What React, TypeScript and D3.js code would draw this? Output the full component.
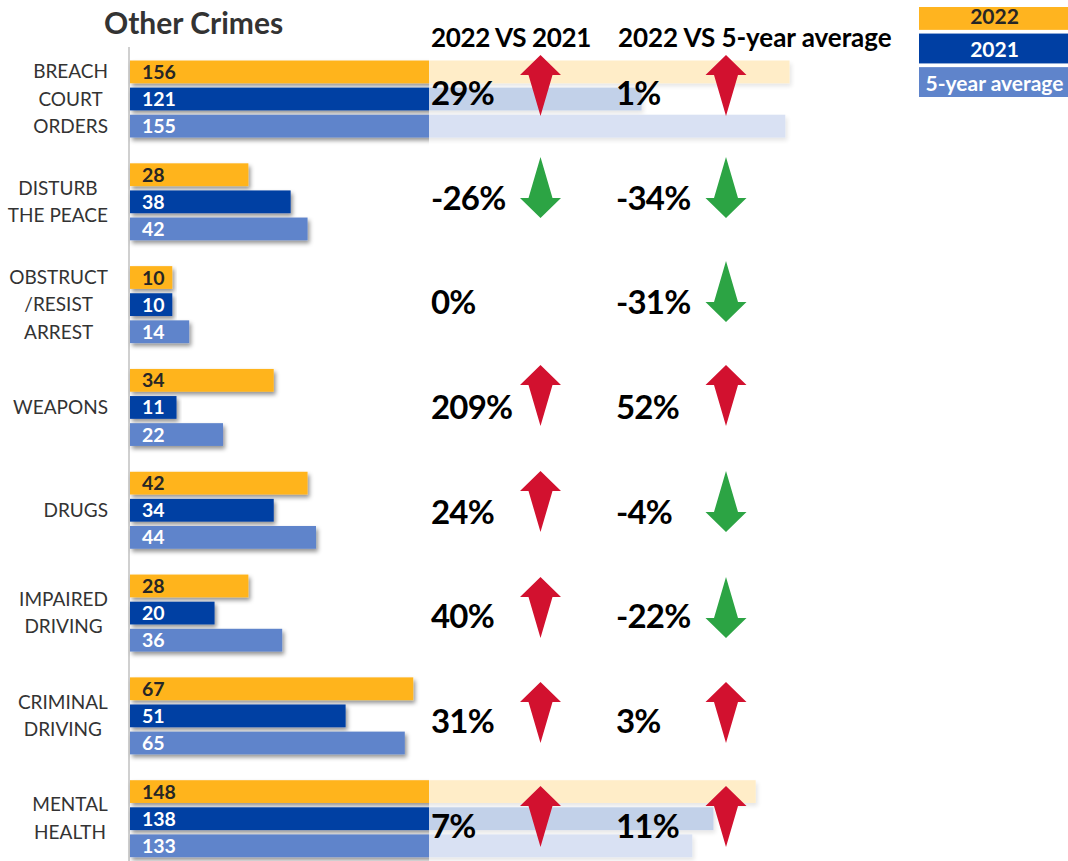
import React, { useEffect, useRef } from "react";
import * as d3 from "d3";

const categories = [
  ["BREACH", "COURT", "ORDERS"],
  ["DISTURB", "THE PEACE"],
  ["OBSTRUCT", "/RESIST", "ARREST"],
  ["WEAPONS"],
  ["DRUGS"],
  ["IMPAIRED", "DRIVING"],
  ["CRIMINAL", "DRIVING"],
  ["MENTAL", "HEALTH"],
];
const seriesNames = ["2022", "2021", "5-year average"];
const values2022 = [156, 28, 10, 34, 42, 28, 67, 148];
const values2021 = [121, 38, 10, 11, 34, 20, 51, 138];
const valuesAvg = [155, 42, 14, 22, 44, 36, 65, 133];
const changeVs2021 = [29, -26, 0, 209, 24, 40, 31, 7];
const changeVsAvg = [1, -34, -31, 52, -4, -22, 3, 11];
const compareHeaders = ["2022 VS 2021", "2022 VS 5-year average"];

const FONT = "Lato, Carlito, 'Open Sans', sans-serif";
const seriesColors = ["#FFB41F", "#003FA3", "#5F84CB"];
const seriesText = ["#262626", "#ffffff", "#ffffff"];
// Top edge of the arrows in each row; the hand-placed shapes drift slightly
const arrowTops = [55, 157, 261, 365, 471, 577, 682, 786];

export default function App() {
  const ref = useRef<SVGSVGElement>(null);

  useEffect(() => {
    const svg = d3.select(ref.current!);
    svg.selectAll("*").remove();

    const defs = svg.append("defs");
    const shadow = defs.append("filter").attr("id", "barShadow")
      .attr("x", "-5%").attr("y", "-30%").attr("width", "115%").attr("height", "170%");
    shadow.append("feDropShadow").attr("dx", 2).attr("dy", 3).attr("stdDeviation", 2.2)
      .attr("flood-color", "#000").attr("flood-opacity", 0.42);

    const x = d3.scaleLinear().domain([0, 156]).range([130, 789.5]);
    const groupY = d3.scaleBand<number>()
      .domain(d3.range(categories.length))
      .range([60.5, 883])
      .paddingInner(0);
    const barY = d3.scaleBand<number>()
      .domain([0, 1, 2])
      .range([0, 77])
      .paddingInner(0.16)
      .paddingOuter(0);
    const seriesValues = [values2022, values2021, valuesAvg];

    // Vertical baseline of the bars
    svg.append("line")
      .attr("x1", 129).attr("x2", 129).attr("y1", 47).attr("y2", 861)
      .attr("stroke", "#d0d0d0").attr("stroke-width", 2);

    // Bars with their soft shadow
    const barLayer = svg.append("g");
    categories.forEach((_, i) => {
      seriesValues.forEach((vals, s) => {
        barLayer.append("rect")
          .attr("x", x(0))
          .attr("y", groupY(i)! + barY(s)!)
          .attr("width", x(vals[i]) - x(0))
          .attr("height", barY.bandwidth())
          .attr("fill", seriesColors[s])
          .attr("filter", "url(#barShadow)");
      });
    });

    // Long bars fade out behind the comparison columns
    categories.forEach((_, i) => {
      const longest = d3.max(seriesValues, (v) => v[i])!;
      if (x(longest) > 429) {
        svg.append("rect")
          .attr("x", 429).attr("y", groupY(i)! - 6)
          .attr("width", 420).attr("height", 96)
          .attr("fill", "#fff").attr("fill-opacity", 0.76);
      }
    });

    // Bar values
    categories.forEach((_, i) => {
      seriesValues.forEach((vals, s) => {
        svg.append("text")
          .attr("x", 142)
          .attr("y", groupY(i)! + barY(s)! + barY.bandwidth() / 2 + 7)
          .attr("font-family", FONT).attr("font-weight", 700).attr("font-size", 19.5)
          .attr("fill", seriesText[s])
          .text(vals[i]);
      });
    });

    // Category labels: centred lines, block aligned to the axis side
    categories.forEach((lines, i) => {
      const cy = groupY(i)! + 38.5;
      const block = svg.append("g");
      lines.forEach((line, l) => {
        block.append("text")
          .attr("x", 0)
          .attr("y", cy + (l - (lines.length - 1) / 2) * 27.4 + 6.5)
          .attr("text-anchor", "middle")
          .attr("font-family", FONT).attr("font-size", 19)
          .attr("fill", "#333")
          .text(line);
      });
      const box = (block.node() as SVGGElement).getBBox();
      block.attr("transform", `translate(${108 - box.width / 2},0)`);
    });

    // Comparison columns: percentage text and direction arrow
    const textBaseline = d3.scaleLinear().domain([0, 7]).range([105, 837.5]);
    const arrow = (cx: number, top: number, dir: number) => {
      const cy = top + 30.5;
      const headBase = cy - 10.5 * dir;
      const p = d3.path();
      p.moveTo(cx, cy - 30.5 * dir);
      p.lineTo(cx + 20.5, headBase);
      p.lineTo(cx + 12, headBase);
      p.lineTo(cx, cy + 30.5 * dir);
      p.lineTo(cx - 12, headBase);
      p.lineTo(cx - 20.5, headBase);
      p.closePath();
      return p.toString();
    };
    const columns = [
      { vals: changeVs2021, textX: 431, arrowX: 540.5 },
      { vals: changeVsAvg, textX: 616, arrowX: 726 },
    ];
    columns.forEach((col) => {
      col.vals.forEach((v, i) => {
        svg.append("text")
          .attr("x", col.textX)
          .attr("y", textBaseline(i))
          .attr("font-family", FONT).attr("font-weight", 700).attr("font-size", 33)
          .attr("letter-spacing", -0.8)
          .attr("fill", "#000")
          .text(`${v}%`);
        if (v !== 0) {
          svg.append("path")
            .attr("d", arrow(col.arrowX, arrowTops[i], v > 0 ? 1 : -1))
            .attr("fill", v > 0 ? "#D2112F" : "#2CA444");
        }
      });
    });

    // Title and column headers
    svg.append("text").attr("x", 104).attr("y", 33.5)
      .attr("font-family", FONT).attr("font-weight", 700).attr("font-size", 30)
      .attr("fill", "#333").text("Other Crimes");
    compareHeaders.forEach((h, i) => {
      svg.append("text").attr("x", [431, 618][i]).attr("y", 47)
        .attr("font-family", FONT).attr("font-weight", 700).attr("font-size", 26)
        .attr("letter-spacing", [-0.35, -0.05][i])
        .attr("fill", "#000").text(h);
    });

    // Legend: a stack of bands whose first cell is cut off at the top
    const legendY = d3.scaleBand<string>().domain(seriesNames).range([0, 97]).paddingInner(0.11);
    const legendTop = 7;
    seriesNames.forEach((name, s) => {
      const y0 = Math.max(legendY(name)!, legendTop);
      const y1 = legendY(name)! + legendY.bandwidth();
      svg.append("rect")
        .attr("x", 919).attr("y", y0)
        .attr("width", 149).attr("height", y1 - y0)
        .attr("fill", seriesColors[s]);
      svg.append("text")
        .attr("x", 994.5).attr("y", y1 - (s === 0 ? 6 : 6.5))
        .attr("text-anchor", "middle")
        .attr("font-family", FONT).attr("font-weight", 700).attr("font-size", 21)
        .attr("fill", seriesText[s]).text(name);
    });
  }, []);

  return (
    <svg
      ref={ref}
      width={1068}
      height={861}
      style={{ position: "absolute", left: 0, top: 0, display: "block", background: "#fff" }}
    />
  );
}
